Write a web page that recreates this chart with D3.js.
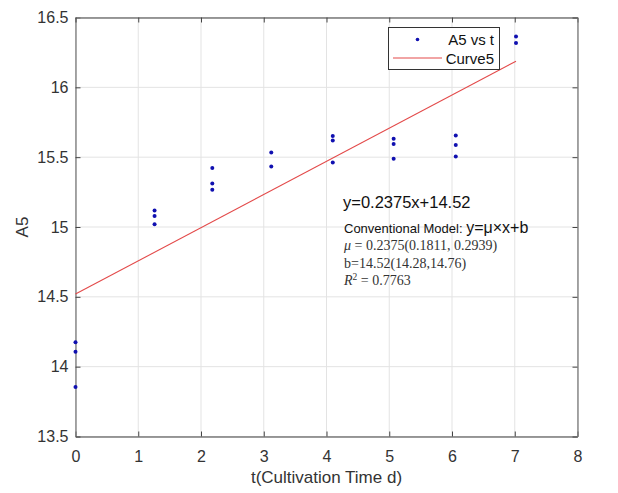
<!DOCTYPE html>
<html><head><meta charset="utf-8">
<script src="https://cdn.jsdelivr.net/npm/d3@7"></script>
<style>
html,body{margin:0;padding:0;background:#fff;}
svg{display:block;font-family:"Liberation Sans",Arial,sans-serif;}
</style></head>
<body><svg id="chart" width="618" height="493"></svg>
<script>
// Data
const tValues = [0,0,0, 1.26,1.26,1.26, 2.18,2.18,2.18, 3.12,3.12, 4.1,4.1,4.1, 5.07,5.07,5.07, 6.06,6.06,6.06, 7.02,7.02];
const a5Values = [14.174,14.107,13.855, 15.119,15.078,15.020, 15.423,15.311,15.267, 15.534,15.433, 15.652,15.619,15.462, 15.631,15.595,15.488, 15.655,15.588,15.505, 16.364,16.317];
const slope = 0.2375, intercept = 14.52;
const fitRange = [0, 7.02];
const xTicks = [0,1,2,3,4,5,6,7,8];
const yTicks = [13.5,14,14.5,15,15.5,16,16.5];
const legendLabels = ["A5 vs t","Curve5"];

const svg = d3.select("#chart");
const L=75.5, R=577.5, T=17.5, B=436.5;
const x = d3.scaleLinear().domain([0,8]).range([L,R]);
const y = d3.scaleLinear().domain([13.5,16.5]).range([B,T]);
const axisCol="#7a7a7a", textCol="#333";

// grid
const grid = svg.append("g");
grid.selectAll(".vg").data(xTicks).enter().append("line")
  .attr("x1",d=>x(d)).attr("x2",d=>x(d)).attr("y1",T).attr("y2",B)
  .attr("stroke","#e3e3e3").attr("stroke-width",1);
grid.selectAll(".hg").data(yTicks).enter().append("line")
  .attr("y1",d=>y(d)).attr("y2",d=>y(d)).attr("x1",L).attr("x2",R)
  .attr("stroke","#e3e3e3").attr("stroke-width",1);

// axes
const xAxis = d3.axisBottom(x).tickValues(xTicks).tickSizeInner(-5).tickSizeOuter(0).tickPadding(14).tickFormat(d3.format("d"));
const gx = svg.append("g").attr("transform",`translate(0,${B})`).call(xAxis);
const yAxis = d3.axisLeft(y).tickValues(yTicks).tickSizeInner(-5).tickSizeOuter(0).tickPadding(7).tickFormat(d=>String(d));
const gy = svg.append("g").attr("transform",`translate(${L},0)`).call(yAxis);
const xTop = d3.axisTop(x).tickValues(xTicks).tickSizeInner(-5).tickSizeOuter(0).tickFormat("");
const gxt = svg.append("g").attr("transform",`translate(0,${T})`).call(xTop);
const yRight = d3.axisRight(y).tickValues(yTicks).tickSizeInner(-5).tickSizeOuter(0).tickFormat("");
const gyr = svg.append("g").attr("transform",`translate(${R},0)`).call(yRight);
[gx,gy,gxt,gyr].forEach(g=>{
  g.selectAll("path").attr("stroke",axisCol).attr("stroke-width",1.3);
  g.selectAll("line").attr("stroke","#444");
  g.selectAll("text").attr("fill",textCol).attr("font-size",16).attr("font-family","Liberation Sans, Arial, sans-serif");
});

// fit line
const line = d3.line().x(d=>x(d)).y(d=>y(slope*d+intercept));
svg.append("path").datum(fitRange).attr("d",line)
  .attr("fill","none").attr("stroke","#e34a4a").attr("stroke-width",1.1);

// points
svg.append("g").selectAll("circle").data(tValues.map((t,i)=>[t,a5Values[i]])).enter()
  .append("circle").attr("cx",d=>x(d[0])).attr("cy",d=>y(d[1])).attr("r",2)
  .attr("fill","#1010b0");

// axis labels
svg.append("text").attr("x",(L+R)/2).attr("y",483).attr("text-anchor","middle")
  .attr("font-size",17).attr("fill",textCol).text("t(Cultivation Time d)");
svg.append("text").attr("transform",`translate(28,${(T+B)/2}) rotate(-90)`).attr("text-anchor","middle")
  .attr("font-size",17).attr("fill",textCol).text("A5");

// legend
const lg = svg.append("g");
lg.append("rect").attr("x",388.5).attr("y",27.5).attr("width",111).attr("height",42)
  .attr("fill","#fff").attr("stroke","#333").attr("stroke-width",1);
lg.append("circle").attr("cx",417.5).attr("cy",39.5).attr("r",1.8).attr("fill","#1010b0");
lg.append("line").attr("x1",393).attr("x2",442).attr("y1",58).attr("y2",58).attr("stroke","#e34a4a").attr("stroke-width",1.1);
lg.selectAll("text").data(legendLabels).enter().append("text")
  .attr("x",494).attr("y",(d,i)=>45+i*18.5).attr("text-anchor","end")
  .attr("font-size",15).attr("fill","#111").text(d=>d);

// annotations
svg.append("text").attr("x",343).attr("y",208).attr("font-size",16.5).attr("fill","#111").text("y=0.2375x+14.52");
const t1 = svg.append("text").attr("x",344).attr("y",233).attr("fill","#111");
t1.append("tspan").attr("font-size",13).text("Conventional Model: ");
t1.append("tspan").attr("font-size",16).text("y=μ×x+b");
const serif = "Liberation Serif, DejaVu Serif, serif";
const t2 = svg.append("text").attr("x",344).attr("y",250).attr("font-family",serif).attr("font-size",14).attr("fill","#333");
t2.append("tspan").attr("font-style","italic").text("μ");
t2.append("tspan").text(" = 0.2375(0.1811, 0.2939)");
svg.append("text").attr("x",344).attr("y",267.5).attr("font-family",serif).attr("font-size",14).attr("fill","#333").text("b=14.52(14.28,14.76)");
const t4 = svg.append("text").attr("x",344).attr("y",285).attr("font-family",serif).attr("font-size",14).attr("fill","#333");
t4.append("tspan").attr("font-style","italic").text("R");
t4.append("tspan").attr("font-size",9.5).attr("dy",-5).text("2");
t4.append("tspan").attr("dy",5).text(" = 0.7763");
</script></body></html>
